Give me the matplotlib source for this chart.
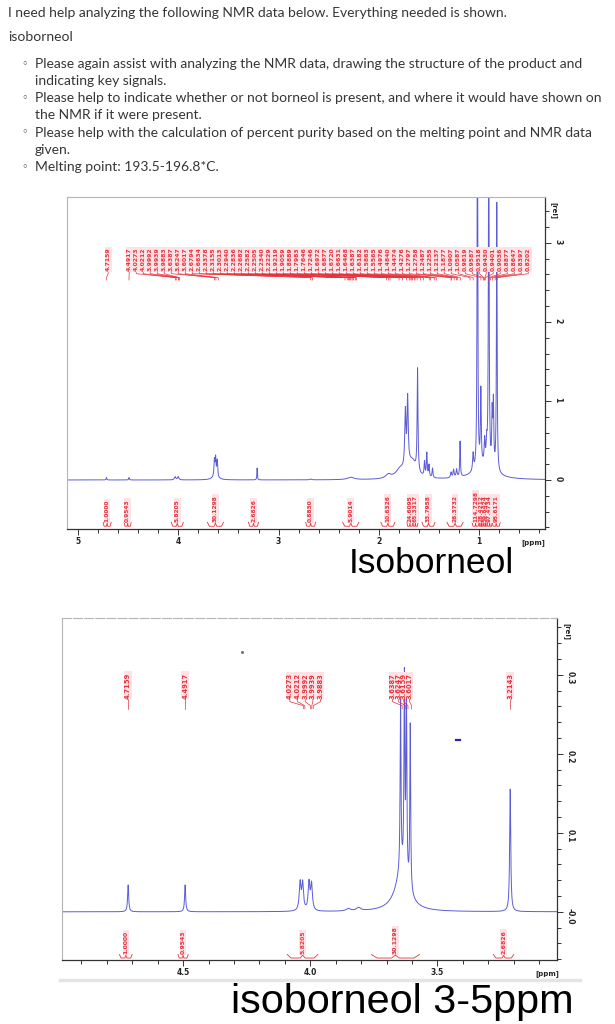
import numpy as np
import matplotlib
matplotlib.use("Agg")
import matplotlib.pyplot as plt
from matplotlib.ticker import MultipleLocator, FixedLocator, FixedFormatter
from matplotlib.lines import Line2D

# ---------------- data ----------------
INTRO = "I need help analyzing the following NMR data below. Everything needed is shown."
COMPOUND = "isoborneol"
BULLETS = [
    ["Please again assist with analyzing the NMR data, drawing the structure of the product and",
     "indicating key signals."],
    ["Please help to indicate whether or not borneol is present, and where it would have shown on",
     "the NMR if it were present."],
    ["Please help with the calculation of percent purity based on the melting point and NMR data",
     "given."],
    ["Melting point: 193.5-196.8*C."],
]
CAPTION1 = "Isoborneol"
CAPTION2 = "isoborneol 3-5ppm"

# Spectrum 1 (full range) – peak table
S1_CENTERS = [4.716, 4.492, 4.032, 4.001, 3.640, 3.628, 3.612, 3.630, 3.214, 2.680,
              2.280, 1.905, 1.790, 1.736, 1.713, 1.660, 1.614, 1.545, 1.522, 1.500,
              1.465, 1.280, 1.255, 1.225, 1.190, 1.060, 1.017, 0.983, 0.945, 0.925,
              0.904, 0.870, 0.858, 0.824, 0.950, 1.690]
S1_HEIGHTS = [0.03, 0.03, 0.04, 0.04, 0.20, 0.22, 0.20, 0.05, 0.15, 0.01,
              0.03, 0.05, 0.10, 0.70, 0.85, 0.12, 1.30, 0.18, 0.30, 0.15,
              0.12, 0.07, 0.10, 0.10, 0.45, 0.22, 5.0, 0.95, 0.30, 0.25,
              5.0, 0.65, 0.80, 3.40, 0.15, 0.12]
S1_WIDTHS = [0.004, 0.004, 0.008, 0.008, 0.005, 0.005, 0.005, 0.03, 0.003, 0.01,
             0.04, 0.03, 0.05, 0.007, 0.007, 0.04, 0.005, 0.005, 0.005, 0.005,
             0.005, 0.006, 0.006, 0.006, 0.004, 0.006, 0.004, 0.005, 0.006, 0.006,
             0.004, 0.005, 0.005, 0.004, 0.12, 0.06]
S1_PEAK_LABELS = ["4.7159", "4.4917", "4.0273", "4.0212", "3.9992", "3.9939", "3.9883",
                  "3.6387", "3.6247", "3.6017", "2.6794", "2.6634", "2.3378", "2.3155",
                  "2.3013", "2.2940", "2.2836", "2.2682", "2.2582", "2.2505", "2.2340",
                  "2.2229", "1.9219", "1.9059", "1.8889", "1.7983", "1.7646", "1.7246",
                  "1.6972", "1.6877", "1.6720", "1.6631", "1.6468", "1.6387", "1.6182",
                  "1.5863", "1.5565", "1.4976", "1.4840", "1.4474", "1.4276", "1.2797",
                  "1.2758", "1.2487", "1.2255", "1.2137", "1.1877", "1.0907", "1.0587",
                  "0.9819", "0.9587", "0.9518", "0.9430", "0.9401", "0.9036", "0.8877",
                  "0.8647", "0.8397", "0.8202"]
S1_INT_LABELS = ["1.0000", "0.9543", "5.8205", "30.1298", "2.6826", "0.8830", "5.9014",
                 "10.6326", "24.6095", "65.3317", "33.7958", "28.3732", "114.7298",
                 "28.4212", "59.8424", "97.4734", "95.6171"]
S1_INT_FROM = [4.75, 4.54, 4.07, 3.71, 3.30, 2.73, 2.36, 1.98, 1.72, 1.66, 1.57, 1.32,
               1.07, 1.00, 0.96, 0.92, 0.87]
S1_INT_TO = [4.67, 4.47, 3.95, 3.55, 3.20, 2.63, 2.20, 1.84, 1.66, 1.61, 1.44, 1.16,
             1.00, 0.96, 0.92, 0.87, 0.79]

# Spectrum 2 (3-5 ppm expansion)
S2_CENTERS = [4.716, 4.492, 4.040, 4.030, 4.005, 3.995, 3.850, 3.810,
              3.645, 3.630, 3.622, 3.607, 3.640, 3.214]
S2_HEIGHTS = [0.034, 0.034, 0.035, 0.034, 0.035, 0.033, 0.003, 0.004,
              0.22, 0.245, 0.235, 0.21, 0.05, 0.155]
S2_WIDTHS = [0.0025, 0.0025, 0.004, 0.004, 0.004, 0.004, 0.01, 0.01,
             0.002, 0.002, 0.002, 0.002, 0.03, 0.0025]
S2_PEAK_LABELS = ["4.7159", "4.4917", "4.0273", "4.0212", "3.9992", "3.9939", "3.9883",
                  "3.6387", "3.6247", "3.6159", "3.6017", "3.2143"]
S2_INT_LABELS = ["1.0000", "0.9543", "5.8205", "30.1298", "2.6826"]
S2_INT_FROM = [4.75, 4.52, 4.09, 3.76, 3.28]
S2_INT_TO = [4.70, 4.48, 3.97, 3.57, 3.20]

# ---------------- figure ----------------
W, H = 615, 1024
fig = plt.figure(figsize=(W / 100, H / 100), dpi=100)
fig.patch.set_facecolor("white")


def fx(x):
    return x / W


def fy(y):
    return 1 - y / H


TXT = "#363636"
TFONT = ["Lato", "DejaVu Sans"]
FS = 10.0
fig.text(fx(8), fy(13), INTRO, fontsize=FS, color=TXT, family=TFONT, va="center")
fig.text(fx(8), fy(37), COMPOUND, fontsize=FS, color=TXT, family=TFONT, va="center")
y = 64
for b in BULLETS:
    fig.text(fx(21), fy(y), "\u25e6", fontsize=8, color=TXT, family=["DejaVu Sans"], va="center")
    for line in b:
        fig.text(fx(35), fy(y), line, fontsize=FS, color=TXT, family=TFONT, va="center")
        y += 17
    y += 0.3

LINE_C = "#5c5cd6"
RED = "#e8323c"
PINK = "#fde3e6"


def spectrum(ppm, centers, heights, widths):
    out = np.zeros_like(ppm)
    for c, h, w in zip(centers, heights, widths):
        out += h * w ** 2 / ((ppm - c) ** 2 + w ** 2)
    return out


def style_axes(ax):
    for s in ("left", "top"):
        ax.spines[s].set_color("#b5b5b5")
        ax.spines[s].set_linewidth(0.8)
    for s in ("right", "bottom"):
        ax.spines[s].set_color("#333333")
        ax.spines[s].set_linewidth(0.9)
    ax.yaxis.tick_right()
    ax.tick_params(axis="both", which="both", direction="out", color="#333333",
                   width=0.7, labelsize=5.5, labelcolor="#222222", pad=2)
    ax.tick_params(axis="both", which="major", length=4)
    ax.tick_params(axis="both", which="minor", length=3)
    ax.tick_params(axis="y", labelrotation=-90)
    for t in ax.get_xticklabels() + ax.get_yticklabels():
        t.set_fontweight("bold")


def bracket(ax, a, b, yb, d, lw=0.6):
    L = a - b
    m = (a + b) / 2
    xs = [a, a - 0.12 * L, m + 0.08 * L, m, m - 0.08 * L, b + 0.12 * L, b]
    ys = [yb + d, yb, yb, yb + d * 0.8, yb, yb, yb + d]
    ax.plot(xs, ys, color=RED, lw=lw, solid_joinstyle="round")


# ---------- spectrum 1 ----------
ax1 = fig.add_axes([fx(67), fy(529), fx(545) - fx(67), fy(197) - fy(529)])
x1lim = (5.11, 0.343)
ppm1 = np.linspace(x1lim[0], x1lim[1], 30000)
ax1.plot(ppm1, spectrum(ppm1, S1_CENTERS, S1_HEIGHTS, S1_WIDTHS), color=LINE_C, lw=0.7)
ax1.set_xlim(*x1lim)
ax1.set_ylim(-0.62, 3.58)
ax1.xaxis.set_major_locator(FixedLocator([5, 4, 3, 2, 1]))
ax1.xaxis.set_major_formatter(FixedFormatter(["5", "4", "3", "2", "1"]))
ax1.xaxis.set_minor_locator(MultipleLocator(0.2))
ax1.yaxis.set_major_locator(FixedLocator([0, 1, 2, 3]))
ax1.yaxis.set_major_formatter(FixedFormatter(["0", "1", "2", "3"]))
ax1.yaxis.set_minor_locator(MultipleLocator(0.2))
style_axes(ax1)
ax1.text(1.012, 0.985, "[rel]", transform=ax1.transAxes, rotation=-90, fontsize=5,
         fontweight="bold", color="#222", va="top", ha="left")
ax1.text(0.975, -0.03, "[ppm]", transform=ax1.transAxes, fontsize=5,
         fontweight="bold", color="#222", va="top", ha="center")

# peak labels
lab_vals = [float(s) for s in S1_PEAK_LABELS]
lab_x = [4.70] + list(np.linspace(4.49, 0.51, len(S1_PEAK_LABELS) - 1))
for s, v, lx in zip(S1_PEAK_LABELS, lab_vals, lab_x):
    ax1.text(lx, 2.64, s, rotation=90, fontsize=4.4, color=RED, ha="center", va="bottom",
             fontweight="bold",
             bbox=dict(boxstyle="square,pad=0.15", fc=PINK, ec="none"))
    ax1.plot([lx, lx, v, v], [2.64, 2.61, 2.56, 2.53], color=RED, lw=0.5)

# integrals
for s, a, b in zip(S1_INT_LABELS, S1_INT_FROM, S1_INT_TO):
    m = (a + b) / 2
    ax1.text(m, -0.53, s, rotation=90, fontsize=4.2, color=RED, ha="center", va="bottom",
             fontweight="bold",
             bbox=dict(boxstyle="square,pad=0.15", fc=PINK, ec="none"))
    bracket(ax1, a, b, -0.585, 0.05)

# ---------- spectrum 2 ----------
ax2 = fig.add_axes([fx(62), fy(960), fx(557) - fx(62), fy(618) - fy(960)])
x2lim = (4.976, 3.03)
ppm2 = np.linspace(x2lim[0], x2lim[1], 30000)
ax2.plot(ppm2, spectrum(ppm2, S2_CENTERS, S2_HEIGHTS, S2_WIDTHS), color=LINE_C, lw=0.7)
ax2.set_xlim(*x2lim)
ax2.set_ylim(-0.061, 0.372)
ax2.xaxis.set_major_locator(FixedLocator([4.5, 4.0, 3.5]))
ax2.xaxis.set_major_formatter(FixedFormatter(["4.5", "4.0", "3.5"]))
ax2.xaxis.set_minor_locator(MultipleLocator(0.1))
ax2.yaxis.set_major_locator(FixedLocator([0.0, 0.1, 0.2, 0.3]))
ax2.yaxis.set_major_formatter(FixedFormatter(["-0.0", "0.1", "0.2", "0.3"]))
ax2.yaxis.set_minor_locator(MultipleLocator(0.02))
style_axes(ax2)
ax2.spines["top"].set_linestyle((0, (8, 2)))
ax2.text(1.012, 0.985, "[rel]", transform=ax2.transAxes, rotation=-90, fontsize=5,
         fontweight="bold", color="#222", va="top", ha="left")
ax2.text(0.98, -0.03, "[ppm]", transform=ax2.transAxes, fontsize=5,
         fontweight="bold", color="#222", va="top", ha="center")

s2_vals = [float(s) for s in S2_PEAK_LABELS]
s2_x = [4.7159, 4.4917, 4.08, 4.05, 4.02, 3.99, 3.96, 3.677, 3.654, 3.632, 3.610, 3.2143]
for s, v, lx in zip(S2_PEAK_LABELS, s2_vals, s2_x):
    ax2.text(lx, 0.270, s, rotation=90, fontsize=4.9, color=RED, ha="center", va="bottom",
             fontweight="bold",
             bbox=dict(boxstyle="square,pad=0.12", fc=PINK, ec="none"))
    ax2.plot([lx, lx, v, v], [0.270, 0.266, 0.261, 0.257], color=RED, lw=0.5)

for s, a, b in zip(S2_INT_LABELS, S2_INT_FROM, S2_INT_TO):
    m = (a + b) / 2
    ax2.text(m, -0.0535, s, rotation=90, fontsize=4.4, color=RED, ha="center", va="bottom",
             fontweight="bold",
             bbox=dict(boxstyle="square,pad=0.12", fc=PINK, ec="none"))
    bracket(ax2, a, b, -0.0585, 0.0045)

# stray marks visible in the screenshot
ax2.plot([4.268], [0.329], marker="o", ms=1.2, color="#777777")
ax2.plot([3.426, 3.410], [0.218, 0.218], color="#2a2aa0", lw=1.6)

# captions and separator
fig.text(fx(349), fy(573), CAPTION1, fontsize=25.5, family=["Liberation Sans"],
         color="black", va="baseline")
fig.text(fx(231), fy(1013), CAPTION2, fontsize=29.8, family=["Liberation Sans"],
         color="black", va="baseline")
fig.add_artist(Line2D([fx(60), fx(580)], [fy(980), fy(980)], color="#e4e4e4", lw=2.5))

fig.savefig("out.png", dpi=100, facecolor="white")
